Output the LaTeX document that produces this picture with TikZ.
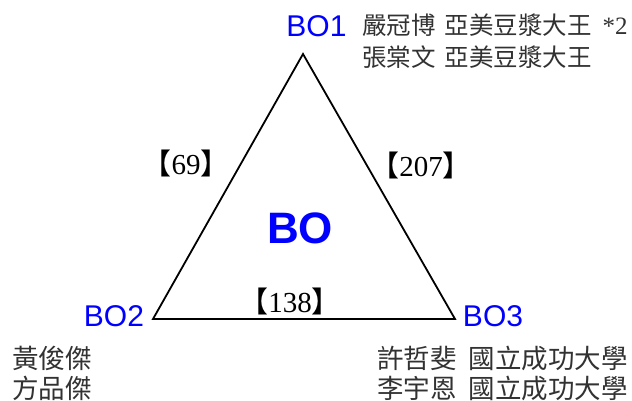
\documentclass[tikz,border=0pt]{standalone}
\usepackage{fontspec}
\setmainfont{Liberation Serif}
\newfontfamily\cjk{Noto Sans CJK TC}
\newfontfamily\arialf{Liberation Sans}
\definecolor{txtgray}{RGB}{50,50,50}
\definecolor{bblue}{RGB}{0,0,255}
\tikzset{
  vlabel/.style={font=\arialf\fontsize{30}{30}\selectfont, text=bblue, inner sep=0pt},
  biglabel/.style={font=\arialf\bfseries\fontsize{44}{44}\selectfont, text=bblue, inner sep=0pt},
  names/.style={font=\cjk\fontsize{24.5}{24.5}\selectfont, text=txtgray, inner sep=0pt},
  bnames/.style={font=\cjk\fontsize{26.5}{26.5}\selectfont, text=txtgray, inner sep=0pt},
  elabel/.style={font=\fontsize{29}{29}\selectfont, text=black, inner sep=0pt},
  edge/.style={draw=black, line width=1.8pt, line join=miter}
}
\newcommand{\lb}{{\cjk【}}
\newcommand{\rb}{{\cjk】}}
\begin{document}
\begin{tikzpicture}[x=1pt,y=-1pt]
\useasboundingbox (0,0) rectangle (632,401);
\coordinate (A) at (303,54);
\coordinate (B) at (153,319);
\coordinate (C) at (455,319);
\draw[edge] (A) -- (B) -- (C) -- cycle;
\node[vlabel] (bo1) at (316.5,26) {BO1};
\node[vlabel] (bo2) at (114,316) {BO2};
\node[vlabel] (bo3) at (493,316) {BO3};
\node[biglabel] (bo) at (300,228) {BO};
\node[names, anchor=west] (n1) at (362,25) {嚴冠博\hspace{9pt}亞美豆漿大王\hspace{11pt}{\rmfamily\fontsize{25}{25}\selectfont *2}};
\node[names, anchor=west] (n2) at (362,57) {張棠文\hspace{9pt}亞美豆漿大王};
\node[bnames, anchor=west] (n3) at (12,358) {黃俊傑};
\node[bnames, anchor=west] (n4) at (12,388) {方品傑};
\node[bnames, anchor=east] (n5) at (628,358) {許哲斐\hspace{12pt}國立成功大學};
\node[bnames, anchor=east] (n6) at (628,388) {李宇恩\hspace{12pt}國立成功大學};
\node[elabel] (e1) at (186,163) {\lb69\rb};
\node[elabel] (e2) at (421,165) {\lb207\rb};
\node[elabel] (e3) at (290,301) {\lb138\rb};
\end{tikzpicture}
\end{document}
